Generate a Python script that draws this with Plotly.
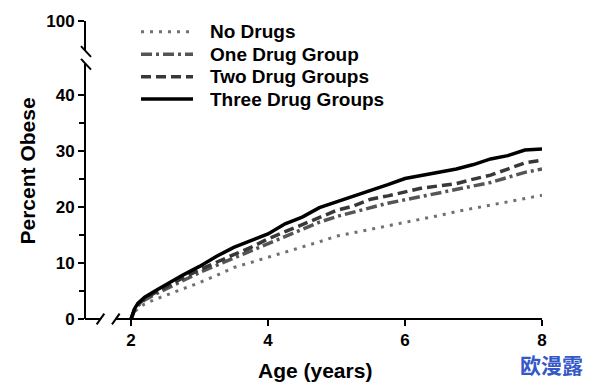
import plotly.graph_objects as go

# ---------------- data ----------------
age = [2.0, 2.05, 2.1, 2.2, 2.35, 2.5, 2.75, 3.0, 3.25, 3.5, 3.75, 4.0, 4.25, 4.5,
       4.75, 5.0, 5.25, 5.5, 5.75, 6.0, 6.25, 6.5, 6.75, 7.0, 7.25, 7.5, 7.75, 8.0]
no_drugs = [0, 1.2, 1.9, 2.7, 3.5, 4.2, 5.3, 6.5, 7.8, 9.2, 10.1, 11.0, 12.0, 12.9,
            13.8, 14.8, 15.4, 16.0, 16.6, 17.2, 17.9, 18.5, 19.2, 19.8, 20.4, 21.0, 21.6, 22.1]
one_drug = [0, 1.5, 2.4, 3.4, 4.4, 5.3, 6.9, 8.3, 9.6, 10.9, 12.2, 13.4, 14.7, 16.0,
            17.3, 18.3, 19.1, 19.9, 20.7, 21.3, 21.9, 22.6, 23.2, 23.8, 24.4, 25.3, 26.2, 26.8]
two_drugs = [0, 1.6, 2.6, 3.6, 4.7, 5.7, 7.3, 8.8, 10.2, 11.5, 12.8, 14.3, 15.6, 16.9,
             18.2, 19.4, 20.2, 21.4, 22.0, 22.7, 23.4, 23.8, 24.2, 25.0, 25.7, 26.8, 27.9, 28.4]
three_drugs = [0, 1.8, 2.8, 3.9, 5.0, 6.1, 7.8, 9.4, 11.2, 12.8, 14.0, 15.2, 17.0, 18.2,
               19.9, 20.9, 22.0, 23.0, 24.0, 25.1, 25.7, 26.2, 26.8, 27.6, 28.6, 29.2, 30.2, 30.4]
series_names = ["No Drugs", "One Drug Group", "Two Drug Groups", "Three Drug Groups"]
series_values = [no_drugs, one_drug, two_drugs, three_drugs]

x_ticks = [2, 4, 6, 8]
y_ticks = [0, 10, 20, 30, 40]
y_minor_ticks = [5, 15, 25, 35]
y_top_ticks = [100]
x_title = "Age (years)"
y_title = "Percent Obese"
watermark = "欧漫露"

# ---------------- layout geometry ----------------
W, H = 594, 386
L, R, T, B = 86, 52, 16, 67
PW, PH = W - L - R, H - T - B


def px(xp):
    return (xp - L) / PW


def py(yp):
    return (H - B - yp) / PH


FONT = "Liberation Sans, Arial, sans-serif"
styles = [
    dict(color="#707070", width=3, dash="3px,6px"),
    dict(color="#555555", width=3.5, dash="11px,4px,3px,4px"),
    dict(color="#383838", width=3.5, dash="10px,5px"),
    dict(color="#000000", width=3.5, dash="solid"),
]

fig = go.Figure()
for name, vals, st in zip(series_names, series_values, styles):
    fig.add_trace(go.Scatter(x=age, y=vals, mode="lines", name=name,
                             line=st, showlegend=False, xaxis="x", yaxis="y"))
# empty trace so the upper (broken) y segment is drawn
fig.add_trace(go.Scatter(x=[], y=[], xaxis="x", yaxis="y2", showlegend=False))

# x range start so that x=2 sits 45px right of the y axis
gap = 45
x0 = (2 * PW - gap * 8) / (PW - gap)

lower_top = 60
upper_bottom = 46
scale = 5.69  # px per unit

tickfont = dict(family=FONT, size=17, color="black", weight="bold")
fig.update_layout(
    width=W, height=H,
    margin=dict(l=L, r=R, t=T, b=B),
    paper_bgcolor="white", plot_bgcolor="white",
    xaxis=dict(range=[x0, 8], showline=False, showgrid=False, zeroline=False,
               tickmode="array", tickvals=x_ticks, ticks="outside", ticklen=6,
               tickwidth=2, tickcolor="black", tickfont=tickfont, anchor="y"),
    yaxis=dict(domain=[0, py(lower_top)], range=[0, (H - B - lower_top) / scale],
               showline=True, linecolor="black", linewidth=2, showgrid=False,
               zeroline=False, tickmode="array", tickvals=y_ticks, ticks="outside",
               ticklen=6, tickwidth=2, tickcolor="black", tickfont=tickfont,
               minor=dict(tickmode="array", tickvals=y_minor_ticks, ticks="outside",
                          ticklen=5, tickwidth=2, tickcolor="black", showgrid=False),
               anchor="x"),
    yaxis2=dict(domain=[py(upper_bottom), 1],
                range=[100 - (upper_bottom - T) / scale, 100],
                showline=True, linecolor="black", linewidth=2, showgrid=False,
                zeroline=False, tickmode="array", tickvals=y_top_ticks, ticks="outside",
                ticklen=6, tickwidth=2, tickcolor="black", tickfont=tickfont,
                anchor="x"),
)

shapes = []
axis_line = dict(color="black", width=2)
# broken x axis
shapes.append(dict(type="line", xref="paper", yref="paper", x0=px(85), x1=px(100.5),
                   y0=0, y1=0, line=axis_line))
shapes.append(dict(type="line", xref="paper", yref="paper", x0=px(115.8), x1=px(542),
                   y0=0, y1=0, line=axis_line))
for cx in (100.5, 115.8):
    shapes.append(dict(type="line", xref="paper", yref="paper",
                       x0=px(cx - 3.8), y0=py(324.5), x1=px(cx + 3.8), y1=py(313.5),
                       line=axis_line))
# broken y axis
for cy in (47, 60):
    shapes.append(dict(type="line", xref="paper", yref="paper",
                       x0=px(81), y0=py(cy - 5.5), x1=px(91), y1=py(cy + 5.5),
                       line=axis_line))

annotations = []
# legend drawn manually
for i, (name, st) in enumerate(zip(series_names, styles)):
    yc = 27 + 22.8 * i
    shapes.append(dict(type="line", xref="paper", yref="paper",
                       x0=px(141), x1=px(193), y0=py(yc), y1=py(yc),
                       line=dict(color=st["color"], width=st["width"], dash=st["dash"])))
    annotations.append(dict(text=name, xref="paper", yref="paper", x=px(208), y=py(yc),
                            xanchor="left", yanchor="middle", showarrow=False,
                            font=dict(family=FONT, size=19, color="black", weight="bold")))

annotations.append(dict(text=y_title, xref="paper", yref="paper", x=px(27), y=py(168),
                        textangle=-90, xanchor="center", yanchor="middle", showarrow=False,
                        font=dict(family=FONT, size=21, color="black", weight="bold")))
annotations.append(dict(text=x_title, xref="paper", yref="paper", x=px(315), y=py(371),
                        xanchor="center", yanchor="middle", showarrow=False,
                        font=dict(family=FONT, size=21, color="black", weight="bold")))
annotations.append(dict(text=watermark, xref="paper", yref="paper", x=px(551), y=py(365),
                        xanchor="center", yanchor="middle", showarrow=False,
                        font=dict(family="Noto Sans CJK SC", size=21, color="#3458c8",
                                  weight="bold")))

fig.update_layout(shapes=shapes, annotations=annotations)
fig.write_html("out.html", config={"displayModeBar": False},
               post_script="document.body.style.margin='0px';"
                           "document.body.style.overflow='hidden';")
